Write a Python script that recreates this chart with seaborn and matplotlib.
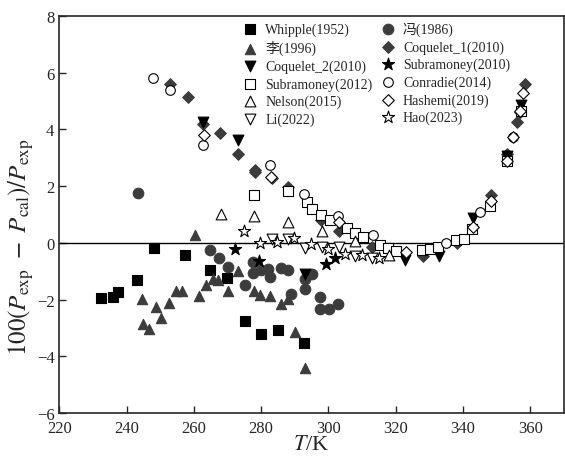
import numpy as np
import pandas as pd
import matplotlib
matplotlib.use("Agg")
import matplotlib.pyplot as plt
import seaborn as sns

# datos: T/K y desviacion 100(Pexp-Pcal)/Pexp
whipple_T = [232.4, 235.9, 237.4, 243.1, 248.1, 257.3, 264.7, 269.8, 275.1, 280.1, 285.0, 292.8]
whipple_d = [-1.95, -1.91, -1.74, -1.31, -0.19, -0.43, -0.96, -1.24, -2.74, -3.20, -3.07, -3.53]

feng_T = [243.3, 264.9, 267.5, 270.0, 275.3, 277.7, 277.5, 279.9, 282.1, 282.5, 285.9, 288.0,
          288.9, 292.9, 292.9, 295.2, 297.5, 297.5, 300.1, 302.9]
feng_d = [1.75, -0.26, -0.54, -0.85, -1.48, -0.69, -1.07, -0.95, -0.92, -1.21, -0.87, -0.97,
          -1.81, -1.61, -1.27, -1.09, -1.91, -2.32, -2.32, -2.15]

li1996_T = [244.7, 244.8, 246.6, 248.8, 250.3, 252.7, 254.7, 256.5, 260.3, 261.6, 263.6, 265.7,
            267.2, 270.0, 273.2, 277.8, 279.7, 282.7, 286.0, 288.0, 290.1, 293.0]
li1996_d = [-1.97, -2.85, -3.05, -2.27, -2.64, -2.12, -1.71, -1.71, 0.28, -1.86, -1.48, -1.28,
            -1.30, -1.68, -0.98, -1.70, -1.85, -1.89, -2.15, -1.97, -3.15, -4.40]

coq1_T = [252.9, 258.2, 262.7, 267.8, 273.2, 278.1, 278.1, 283.2, 288.0, 297.7, 303.1, 313.0,
          328.0, 338.2, 348.3, 353.0, 356.0, 357.0, 358.4]
coq1_d = [5.62, 5.13, 4.20, 3.86, 3.15, 2.58, 2.50, 2.28, 1.98, 0.80, 0.43, -0.15,
          -0.47, 0.00, 1.70, 3.13, 4.27, 4.60, 5.60]

coq2_T = [262.6, 273.2, 293.0, 322.8, 332.9, 342.9, 353.0, 357.4]
coq2_d = [4.28, 3.63, -1.09, -0.60, -0.46, 0.87, 3.07, 4.85]

sub2010_T = [272.3, 279.4, 299.2, 302.0]
sub2010_d = [-0.21, -0.64, -0.74, -0.54]

sub2012_T = [278.0, 288.0, 293.5, 295.2, 297.8, 300.4, 305.5, 307.9, 310.3, 315.3, 317.7, 320.2,
             327.8, 330.3, 332.7, 337.9, 340.4, 342.7, 348.0, 353.0, 357.4]
sub2012_d = [1.69, 1.84, 1.43, 1.20, 1.00, 0.80, 0.52, 0.34, 0.20, -0.07, -0.19, -0.29,
             -0.25, -0.21, -0.15, 0.10, 0.14, 0.49, 1.31, 2.90, 4.66]

conradie_T = [247.8, 252.9, 262.8, 282.7, 292.6, 302.9, 313.2, 335.0, 345.2, 355.0]
conradie_d = [5.83, 5.39, 3.46, 2.75, 1.71, 0.96, 0.29, 0.00, 1.10, 3.72]

nelson_T = [268.1, 277.9, 288.0, 298.0, 308.0, 318.0]
nelson_d = [1.02, 0.96, 0.75, 0.43, 0.08, -0.42]

hashemi_T = [263.1, 282.9, 303.1, 323.0, 343.1, 348.2, 353.0, 355.0, 357.0, 357.9]
hashemi_d = [3.80, 2.31, 0.72, -0.33, 0.55, 1.47, 2.90, 3.75, 4.64, 5.30]

li2022_T = [283.1, 288.0, 293.0, 298.0, 303.0, 307.9, 313.0]
li2022_d = [0.14, 0.13, -0.19, -0.14, -0.13, -0.47, -0.54]

hao_T = [274.8, 279.8, 284.8, 289.9, 294.9, 299.9, 304.9, 309.9, 315.0]
hao_d = [0.42, -0.02, 0.04, 0.17, -0.04, -0.21, -0.39, -0.44, -0.52]

sns.set_style("ticks")
plt.rcParams['font.family'] = ['Liberation Serif', 'Noto Sans CJK SC']
plt.rcParams['mathtext.fontset'] = 'stix'

gris = '#3c3c3c'
# (etiqueta, T, d, marcador, color relleno, borde, tamano)
series = [
    ('Whipple(1952)', whipple_T, whipple_d, 's', 'black', 'black', 45),
    ('李(1996)', li1996_T, li1996_d, '^', gris, gris, 55),
    ('冯(1986)', feng_T, feng_d, 'o', gris, gris, 58),
    ('Coquelet_1(2010)', coq1_T, coq1_d, 'D', gris, gris, 35),
    ('Coquelet_2(2010)', coq2_T, coq2_d, 'v', 'black', 'black', 60),
    ('Subramoney(2010)', sub2010_T, sub2010_d, '*', 'black', 'black', 85),
    ('Subramoney(2012)', sub2012_T, sub2012_d, 's', 'white', 'black', 42),
    ('Conradie(2014)', conradie_T, conradie_d, 'o', 'white', 'black', 48),
    ('Nelson(2015)', nelson_T, nelson_d, '^', 'white', 'black', 60),
    ('Li(2022)', li2022_T, li2022_d, 'v', 'white', 'black', 60),
    ('Hashemi(2019)', hashemi_T, hashemi_d, 'D', 'white', 'black', 35),
    ('Hao(2023)', hao_T, hao_d, '*', 'white', 'black', 85),
]

fig, ax = plt.subplots(figsize=(5.65, 4.6), dpi=100)
fig.subplots_adjust(left=0.105, right=0.998, bottom=0.1, top=0.963)

ax.axhline(0, color='black', lw=1.0, zorder=1)

for nombre, T, d, m, fc, ec, s in series:
    df = pd.DataFrame({'T': T, 'd': d})
    sns.scatterplot(data=df, x='T', y='d', marker=m, s=s, color=fc, edgecolor=ec,
                    linewidth=0.8, label=nombre, ax=ax, zorder=3)

orden = ['Whipple(1952)', '李(1996)', 'Coquelet_2(2010)', 'Subramoney(2012)', 'Nelson(2015)', 'Li(2022)',
         '冯(1986)', 'Coquelet_1(2010)', 'Subramoney(2010)', 'Conradie(2014)', 'Hashemi(2019)', 'Hao(2023)']
h, l = ax.get_legend_handles_labels()
dic = dict(zip(l, h))
ax.legend([dic[k] for k in orden], orden, ncol=2, frameon=False, loc='upper left',
          bbox_to_anchor=(0.35, 1.0), fontsize=10, handlelength=1.2, handletextpad=0.5,
          columnspacing=0.5, labelspacing=0.3, borderaxespad=0.0)

ax.set_xlim(220, 370)
ax.set_ylim(-6, 8)
ax.set_xticks(np.arange(220, 361, 20))
ax.set_yticks(np.arange(-6, 9, 2))
ax.tick_params(direction='in', length=5, width=1, labelsize=12, top=False, right=False)
ax.tick_params(axis='x', pad=5)
for sp in ax.spines.values():
    sp.set_linewidth(1.2)
    sp.set_visible(True)
ax.set_xlabel(r'$T$/K', fontsize=16, labelpad=-1)
ax.set_ylabel(r'$100(P_{\rm exp}\ -\ P_{\rm cal})/P_{\rm exp}$', fontsize=18)
ax.yaxis.set_label_coords(-0.047, 0.42)

fig.savefig('out.png', dpi=100)
